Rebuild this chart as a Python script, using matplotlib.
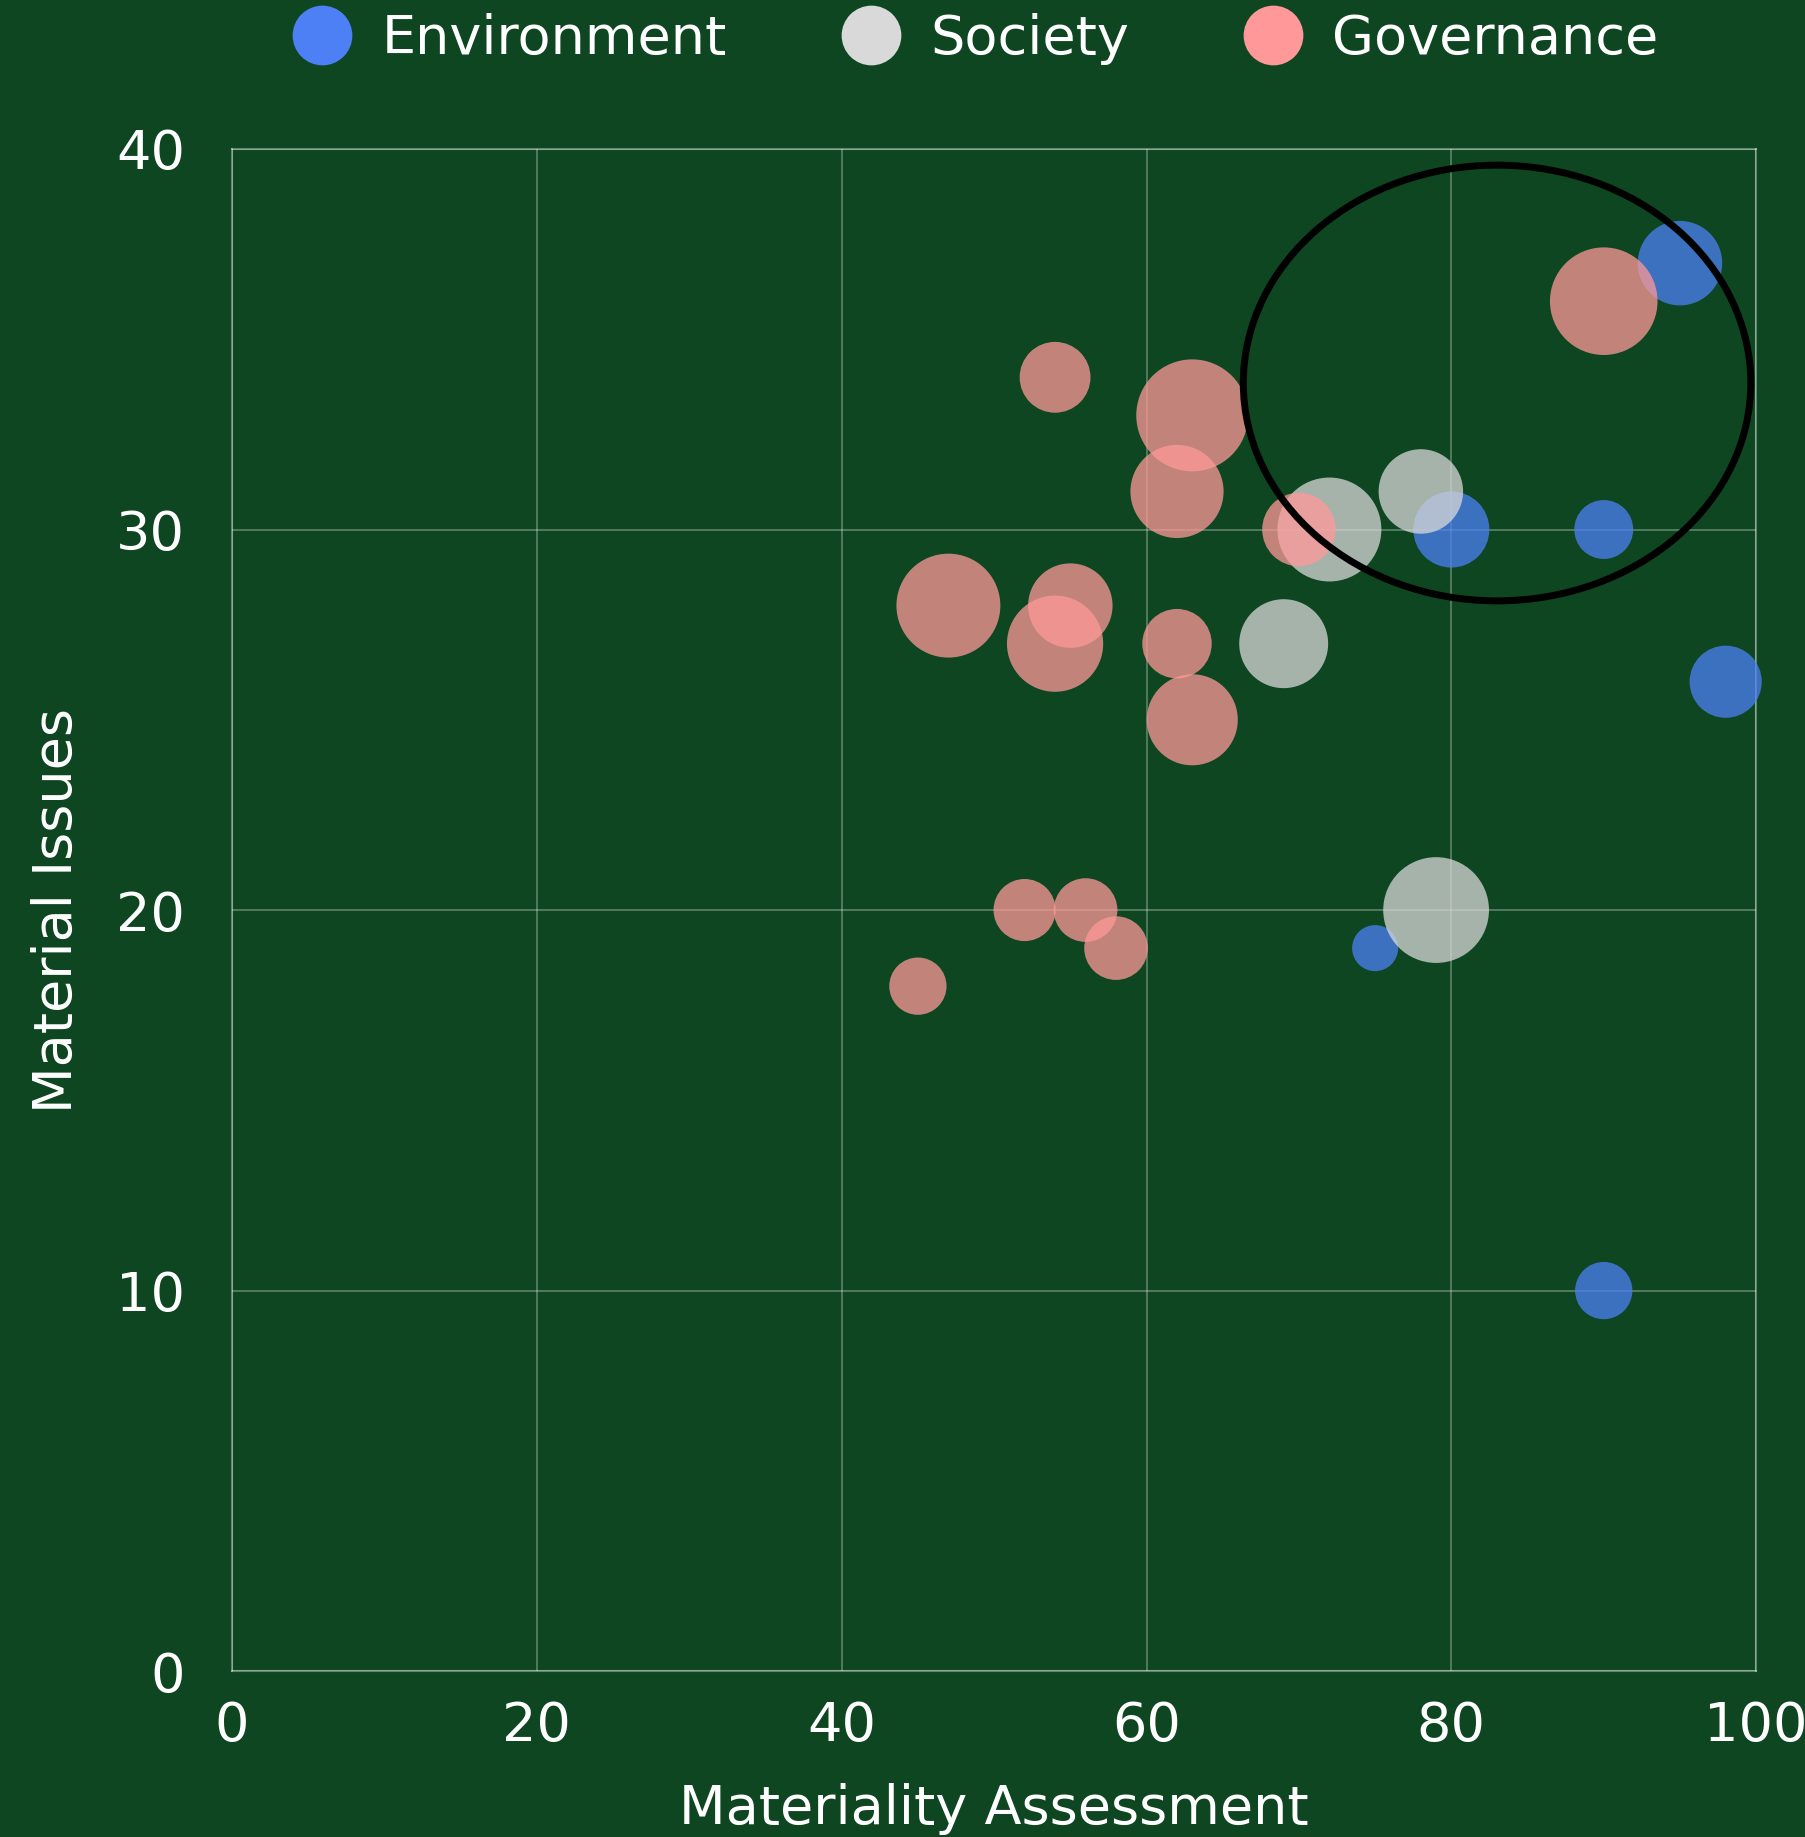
import matplotlib.pyplot as plt
from matplotlib.lines import Line2D
from matplotlib.patches import Ellipse

plt.rcParams['font.family'] = ['DejaVu Sans']

# ESG bubbles: x = materiality assessment, y = material issues, w = bubble weight
env_x = [95, 80, 90, 98, 75, 90]
env_y = [37, 30, 30, 26, 19, 10]
env_w = [37, 30, 18, 27, 11, 17]

soc_x = [72, 78, 69, 79]
soc_y = [30, 31, 27, 20]
soc_w = [56, 37, 41, 58]

gov_x = [90, 54, 63, 62, 70, 47, 55, 54, 62, 63, 52, 56, 58, 45]
gov_y = [36, 34, 33, 31, 30, 28, 28, 27, 27, 25, 20, 20, 19, 18]
gov_w = [60, 26, 65, 45, 28, 56, 37, 48, 25, 43, 20, 21, 21, 17]

categories = ['Environment', 'Society', 'Governance']
colors = ['#4d80f5', '#d9d9d9', '#ff9999']

x_ticks = [0, 20, 40, 60, 80, 100]
y_ticks = [0, 10, 20, 30, 40]

bg = '#0d4620'
fig = plt.figure(figsize=(18.06, 18.37), dpi=100, facecolor=bg)
ax = fig.add_axes([0.1285, 0.0903, 0.8439, 0.8286], facecolor=bg)

series = [(env_x, env_y, env_w), (soc_x, soc_y, soc_w), (gov_x, gov_y, gov_w)]
for (xs, ys, ws), c in zip(series, colors):
    ax.scatter(xs, ys, s=[w * 100 for w in ws], color=c, alpha=0.75,
               linewidths=0, zorder=3, clip_on=False)

# highlight the high-materiality cluster
ax.add_patch(Ellipse((83, 33.85), 33.3, 11.45, fill=False, edgecolor='black',
                     linewidth=5, zorder=4, clip_on=False))

ax.set_xlim(0, 100)
ax.set_ylim(0, 40)
ax.set_xticks(x_ticks)
ax.set_yticks(y_ticks)
ax.grid(True, color='white', alpha=0.3, linewidth=1.3, zorder=0)
ax.set_axisbelow(True)
for sp in ax.spines.values():
    sp.set_color((1, 1, 1, 0.35))
    sp.set_linewidth(1.5)
ax.tick_params(axis='x', length=0, pad=21, labelsize=39, colors='white')
ax.tick_params(axis='y', length=0, pad=34, labelsize=39, colors='white')

ax.set_xlabel('Materiality Assessment', fontsize=39, color='white', labelpad=22)
ax.set_ylabel('Material Issues', fontsize=39, color='white', labelpad=24)

handles = [Line2D([], [], marker='o', linestyle='none', markersize=43,
                  markerfacecolor=c, markeredgewidth=0) for c in colors]
leg = fig.legend(handles, categories, loc='center', ncol=3,
                 bbox_to_anchor=(0.541, 0.979), frameon=False, fontsize=39,
                 handlelength=1.0, handletextpad=0.6, columnspacing=2.15)
for t in leg.get_texts():
    t.set_color('white')

fig.savefig('out.png', dpi=100, facecolor=bg)
